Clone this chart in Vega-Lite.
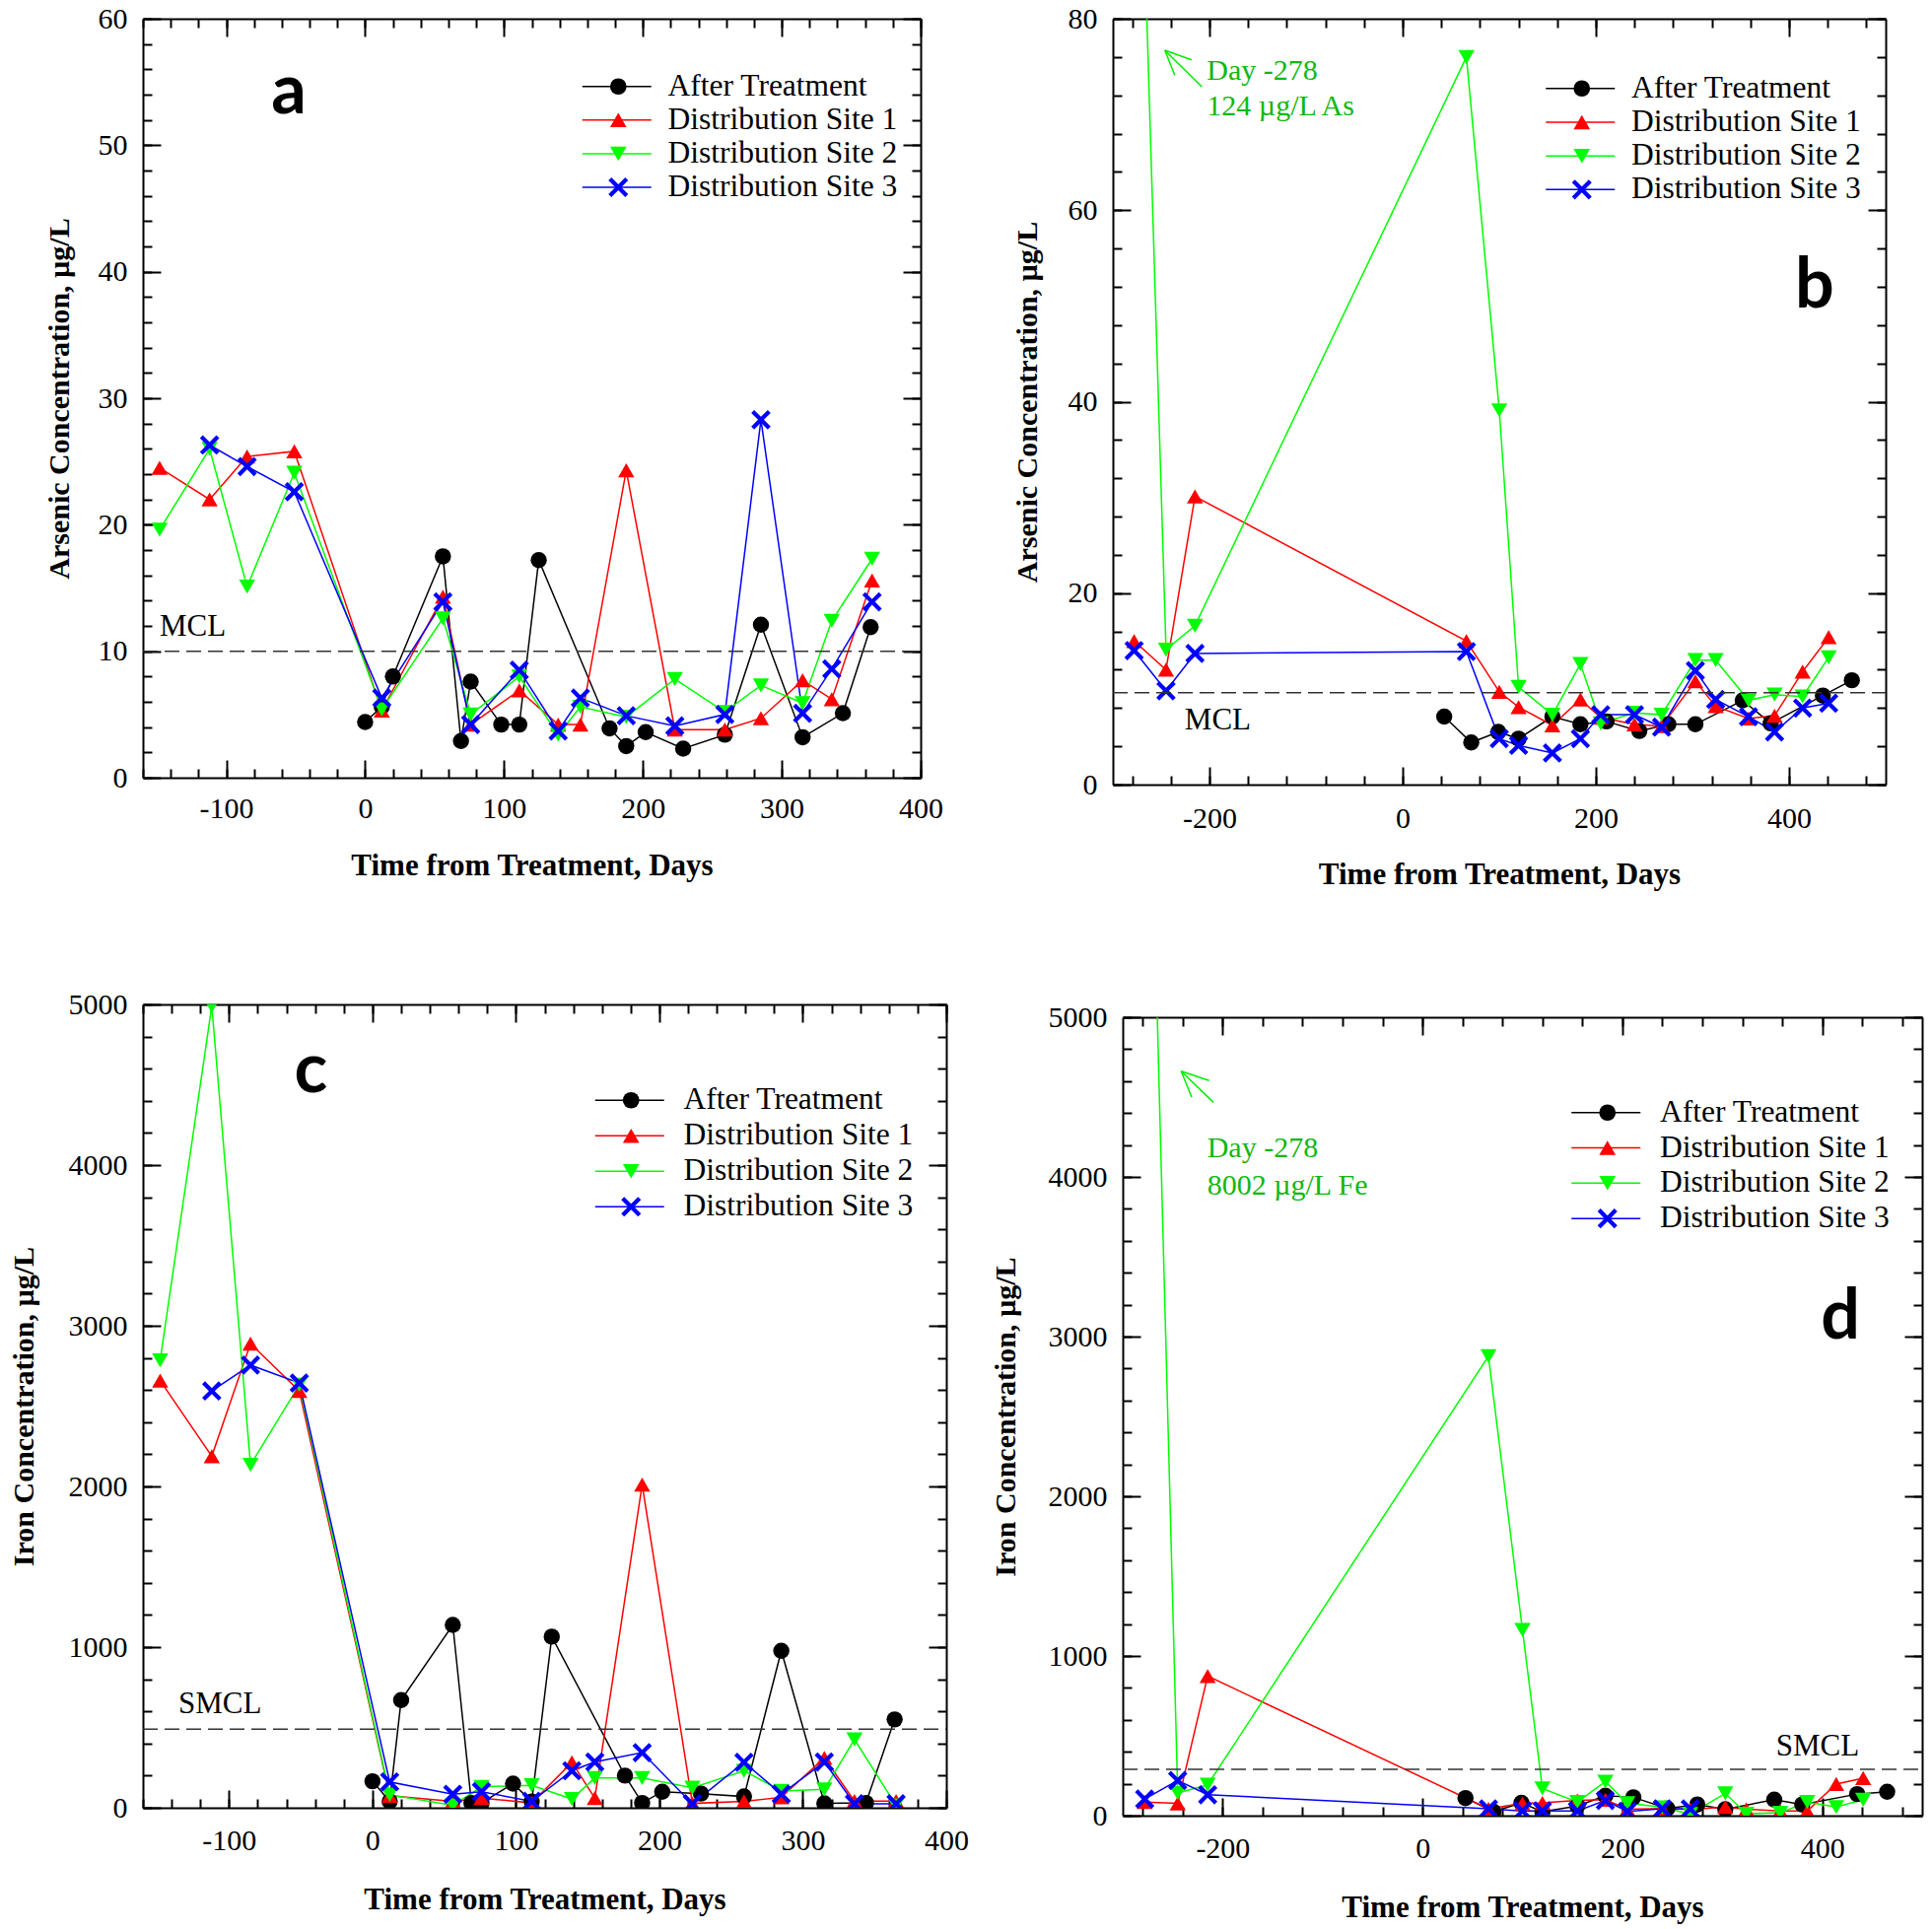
{
"$schema": "https://vega.github.io/schema/vega-lite/v6.json",
"autosize": {"type": "none"},
"padding": {"left": 145, "top": 19, "right": 1815, "bottom": 1938},
"background": "white",
"config": {
 "view": {"stroke": null},
 "axis": {"labelFont": "Liberation Serif", "labelFontSize": 30, "labelColor": "black", "titleFont": "Liberation Serif", "titleFontSize": 30, "titleFontWeight": "bold", "titleColor": "black", "domainColor": "black", "domainWidth": 2, "tickColor": "black", "tickWidth": 2, "grid": false, "labelFlush": false, "labelOverlap": false, "labelBound": false},
 "legend": {"labelFont": "Liberation Serif", "labelFontSize": 31.5, "labelColor": "black", "padding": 0, "labelOffset": 36, "labelLimit": 400}
},
"datasets": {
 "a": [
  {"day":0,"value":4.4,"series":"After Treatment"},{"day":12,"value":5.6,"series":"After Treatment"},{"day":20,"value":8.0,"series":"After Treatment"},{"day":56,"value":17.5,"series":"After Treatment"},{"day":69,"value":2.9,"series":"After Treatment"},{"day":76,"value":7.6,"series":"After Treatment"},{"day":98,"value":4.2,"series":"After Treatment"},{"day":111,"value":4.2,"series":"After Treatment"},{"day":125,"value":17.2,"series":"After Treatment"},{"day":176,"value":3.9,"series":"After Treatment"},{"day":188,"value":2.5,"series":"After Treatment"},{"day":202,"value":3.6,"series":"After Treatment"},{"day":229,"value":2.3,"series":"After Treatment"},{"day":259,"value":3.4,"series":"After Treatment"},{"day":285,"value":12.1,"series":"After Treatment"},{"day":315,"value":3.2,"series":"After Treatment"},{"day":344,"value":5.1,"series":"After Treatment"},{"day":364,"value":11.9,"series":"After Treatment"},
  {"day":-148,"value":24.5,"series":"Distribution Site 1"},{"day":-112,"value":22.0,"series":"Distribution Site 1"},{"day":-85,"value":25.4,"series":"Distribution Site 1"},{"day":-51,"value":25.8,"series":"Distribution Site 1"},{"day":12,"value":5.3,"series":"Distribution Site 1"},{"day":56,"value":14.3,"series":"Distribution Site 1"},{"day":76,"value":4.2,"series":"Distribution Site 1"},{"day":111,"value":6.9,"series":"Distribution Site 1"},{"day":139,"value":4.2,"series":"Distribution Site 1"},{"day":155,"value":4.2,"series":"Distribution Site 1"},{"day":188,"value":24.3,"series":"Distribution Site 1"},{"day":223,"value":3.8,"series":"Distribution Site 1"},{"day":259,"value":3.8,"series":"Distribution Site 1"},{"day":285,"value":4.7,"series":"Distribution Site 1"},{"day":315,"value":7.7,"series":"Distribution Site 1"},{"day":336,"value":6.2,"series":"Distribution Site 1"},{"day":365,"value":15.6,"series":"Distribution Site 1"},
  {"day":-148,"value":19.6,"series":"Distribution Site 2"},{"day":-112,"value":26.0,"series":"Distribution Site 2"},{"day":-85,"value":15.1,"series":"Distribution Site 2"},{"day":-51,"value":24.1,"series":"Distribution Site 2"},{"day":12,"value":5.4,"series":"Distribution Site 2"},{"day":56,"value":12.6,"series":"Distribution Site 2"},{"day":76,"value":5.0,"series":"Distribution Site 2"},{"day":111,"value":8.0,"series":"Distribution Site 2"},{"day":139,"value":3.4,"series":"Distribution Site 2"},{"day":155,"value":5.6,"series":"Distribution Site 2"},{"day":188,"value":4.8,"series":"Distribution Site 2"},{"day":223,"value":7.8,"series":"Distribution Site 2"},{"day":259,"value":5.2,"series":"Distribution Site 2"},{"day":285,"value":7.3,"series":"Distribution Site 2"},{"day":315,"value":5.9,"series":"Distribution Site 2"},{"day":336,"value":12.4,"series":"Distribution Site 2"},{"day":365,"value":17.3,"series":"Distribution Site 2"},
  {"day":-112,"value":26.3,"series":"Distribution Site 3"},{"day":-85,"value":24.6,"series":"Distribution Site 3"},{"day":-51,"value":22.6,"series":"Distribution Site 3"},{"day":12,"value":6.3,"series":"Distribution Site 3"},{"day":56,"value":13.9,"series":"Distribution Site 3"},{"day":76,"value":4.2,"series":"Distribution Site 3"},{"day":111,"value":8.5,"series":"Distribution Site 3"},{"day":139,"value":3.7,"series":"Distribution Site 3"},{"day":155,"value":6.3,"series":"Distribution Site 3"},{"day":188,"value":4.9,"series":"Distribution Site 3"},{"day":223,"value":4.1,"series":"Distribution Site 3"},{"day":259,"value":5.0,"series":"Distribution Site 3"},{"day":285,"value":28.3,"series":"Distribution Site 3"},{"day":315,"value":5.1,"series":"Distribution Site 3"},{"day":336,"value":8.6,"series":"Distribution Site 3"},{"day":365,"value":13.9,"series":"Distribution Site 3"}
 ],
 "b": [
  {"day":43,"value":7.1,"series":"After Treatment"},{"day":71,"value":4.4,"series":"After Treatment"},{"day":99,"value":5.5,"series":"After Treatment"},{"day":120,"value":4.8,"series":"After Treatment"},{"day":155,"value":7.1,"series":"After Treatment"},{"day":184,"value":6.3,"series":"After Treatment"},{"day":211,"value":6.6,"series":"After Treatment"},{"day":245,"value":5.6,"series":"After Treatment"},{"day":275,"value":6.3,"series":"After Treatment"},{"day":303,"value":6.3,"series":"After Treatment"},{"day":352,"value":8.8,"series":"After Treatment"},{"day":381,"value":6.4,"series":"After Treatment"},{"day":435,"value":9.3,"series":"After Treatment"},{"day":465,"value":10.9,"series":"After Treatment"},
  {"day":-278,"value":15.0,"series":"Distribution Site 1"},{"day":-245,"value":12.0,"series":"Distribution Site 1"},{"day":-215,"value":30.1,"series":"Distribution Site 1"},{"day":66,"value":15.0,"series":"Distribution Site 1"},{"day":100,"value":9.7,"series":"Distribution Site 1"},{"day":120,"value":8.1,"series":"Distribution Site 1"},{"day":155,"value":6.2,"series":"Distribution Site 1"},{"day":184,"value":8.9,"series":"Distribution Site 1"},{"day":205,"value":7.0,"series":"Distribution Site 1"},{"day":240,"value":6.3,"series":"Distribution Site 1"},{"day":268,"value":6.1,"series":"Distribution Site 1"},{"day":303,"value":10.8,"series":"Distribution Site 1"},{"day":324,"value":8.2,"series":"Distribution Site 1"},{"day":358,"value":6.9,"series":"Distribution Site 1"},{"day":385,"value":7.2,"series":"Distribution Site 1"},{"day":414,"value":11.8,"series":"Distribution Site 1"},{"day":441,"value":15.4,"series":"Distribution Site 1"},
  {"day":-278,"value":124,"series":"Distribution Site 2"},{"day":-245,"value":14.1,"series":"Distribution Site 2"},{"day":-215,"value":16.6,"series":"Distribution Site 2"},{"day":66,"value":76.0,"series":"Distribution Site 2"},{"day":100,"value":39.1,"series":"Distribution Site 2"},{"day":120,"value":10.2,"series":"Distribution Site 2"},{"day":155,"value":7.3,"series":"Distribution Site 2"},{"day":184,"value":12.6,"series":"Distribution Site 2"},{"day":205,"value":6.4,"series":"Distribution Site 2"},{"day":240,"value":7.5,"series":"Distribution Site 2"},{"day":268,"value":7.3,"series":"Distribution Site 2"},{"day":303,"value":13.0,"series":"Distribution Site 2"},{"day":324,"value":13.0,"series":"Distribution Site 2"},{"day":358,"value":8.8,"series":"Distribution Site 2"},{"day":385,"value":9.4,"series":"Distribution Site 2"},{"day":414,"value":9.2,"series":"Distribution Site 2"},{"day":441,"value":13.3,"series":"Distribution Site 2"},
  {"day":-278,"value":14.0,"series":"Distribution Site 3"},{"day":-245,"value":9.8,"series":"Distribution Site 3"},{"day":-215,"value":13.7,"series":"Distribution Site 3"},{"day":66,"value":13.9,"series":"Distribution Site 3"},{"day":100,"value":4.8,"series":"Distribution Site 3"},{"day":120,"value":4.1,"series":"Distribution Site 3"},{"day":155,"value":3.3,"series":"Distribution Site 3"},{"day":184,"value":4.8,"series":"Distribution Site 3"},{"day":205,"value":7.3,"series":"Distribution Site 3"},{"day":240,"value":7.3,"series":"Distribution Site 3"},{"day":268,"value":6.0,"series":"Distribution Site 3"},{"day":303,"value":11.9,"series":"Distribution Site 3"},{"day":324,"value":8.9,"series":"Distribution Site 3"},{"day":358,"value":7.1,"series":"Distribution Site 3"},{"day":385,"value":5.5,"series":"Distribution Site 3"},{"day":414,"value":8.0,"series":"Distribution Site 3"},{"day":441,"value":8.5,"series":"Distribution Site 3"}
 ],
 "c": [
  {"day":0,"value":165,"series":"After Treatment"},{"day":12,"value":40,"series":"After Treatment"},{"day":20,"value":670,"series":"After Treatment"},{"day":56,"value":1138,"series":"After Treatment"},{"day":69,"value":30,"series":"After Treatment"},{"day":76,"value":30,"series":"After Treatment"},{"day":98,"value":150,"series":"After Treatment"},{"day":111,"value":38,"series":"After Treatment"},{"day":125,"value":1065,"series":"After Treatment"},{"day":176,"value":200,"series":"After Treatment"},{"day":188,"value":30,"series":"After Treatment"},{"day":202,"value":100,"series":"After Treatment"},{"day":229,"value":88,"series":"After Treatment"},{"day":259,"value":70,"series":"After Treatment"},{"day":285,"value":977,"series":"After Treatment"},{"day":315,"value":28,"series":"After Treatment"},{"day":344,"value":30,"series":"After Treatment"},{"day":364,"value":550,"series":"After Treatment"},
  {"day":-148,"value":2659,"series":"Distribution Site 1"},{"day":-112,"value":2188,"series":"Distribution Site 1"},{"day":-85,"value":2889,"series":"Distribution Site 1"},{"day":-51,"value":2594,"series":"Distribution Site 1"},{"day":12,"value":75,"series":"Distribution Site 1"},{"day":56,"value":40,"series":"Distribution Site 1"},{"day":76,"value":60,"series":"Distribution Site 1"},{"day":111,"value":30,"series":"Distribution Site 1"},{"day":139,"value":283,"series":"Distribution Site 1"},{"day":155,"value":60,"series":"Distribution Site 1"},{"day":188,"value":2011,"series":"Distribution Site 1"},{"day":223,"value":27,"series":"Distribution Site 1"},{"day":259,"value":40,"series":"Distribution Site 1"},{"day":285,"value":65,"series":"Distribution Site 1"},{"day":315,"value":310,"series":"Distribution Site 1"},{"day":336,"value":42,"series":"Distribution Site 1"},{"day":365,"value":42,"series":"Distribution Site 1"},
  {"day":-148,"value":2785,"series":"Distribution Site 2"},{"day":-112,"value":4990,"series":"Distribution Site 2"},{"day":-85,"value":2134,"series":"Distribution Site 2"},{"day":-51,"value":2632,"series":"Distribution Site 2"},{"day":12,"value":80,"series":"Distribution Site 2"},{"day":56,"value":15,"series":"Distribution Site 2"},{"day":76,"value":130,"series":"Distribution Site 2"},{"day":111,"value":140,"series":"Distribution Site 2"},{"day":139,"value":55,"series":"Distribution Site 2"},{"day":155,"value":185,"series":"Distribution Site 2"},{"day":188,"value":185,"series":"Distribution Site 2"},{"day":223,"value":125,"series":"Distribution Site 2"},{"day":259,"value":230,"series":"Distribution Site 2"},{"day":285,"value":105,"series":"Distribution Site 2"},{"day":315,"value":115,"series":"Distribution Site 2"},{"day":336,"value":425,"series":"Distribution Site 2"},{"day":365,"value":15,"series":"Distribution Site 2"},
  {"day":-112,"value":2594,"series":"Distribution Site 3"},{"day":-85,"value":2755,"series":"Distribution Site 3"},{"day":-51,"value":2644,"series":"Distribution Site 3"},{"day":12,"value":161,"series":"Distribution Site 3"},{"day":56,"value":84,"series":"Distribution Site 3"},{"day":76,"value":100,"series":"Distribution Site 3"},{"day":111,"value":40,"series":"Distribution Site 3"},{"day":139,"value":230,"series":"Distribution Site 3"},{"day":155,"value":285,"series":"Distribution Site 3"},{"day":188,"value":343,"series":"Distribution Site 3"},{"day":223,"value":25,"series":"Distribution Site 3"},{"day":259,"value":283,"series":"Distribution Site 3"},{"day":285,"value":85,"series":"Distribution Site 3"},{"day":315,"value":285,"series":"Distribution Site 3"},{"day":336,"value":25,"series":"Distribution Site 3"},{"day":365,"value":25,"series":"Distribution Site 3"}
 ],
 "d": [
  {"day":43,"value":110,"series":"After Treatment"},{"day":71,"value":25,"series":"After Treatment"},{"day":99,"value":80,"series":"After Treatment"},{"day":120,"value":25,"series":"After Treatment"},{"day":155,"value":60,"series":"After Treatment"},{"day":183,"value":125,"series":"After Treatment"},{"day":211,"value":115,"series":"After Treatment"},{"day":245,"value":45,"series":"After Treatment"},{"day":275,"value":70,"series":"After Treatment"},{"day":303,"value":40,"series":"After Treatment"},{"day":352,"value":100,"series":"After Treatment"},{"day":380,"value":70,"series":"After Treatment"},{"day":435,"value":135,"series":"After Treatment"},{"day":465,"value":150,"series":"After Treatment"},
  {"day":-278,"value":85,"series":"Distribution Site 1"},{"day":-245,"value":77,"series":"Distribution Site 1"},{"day":-215,"value":874,"series":"Distribution Site 1"},{"day":66,"value":43,"series":"Distribution Site 1"},{"day":100,"value":77,"series":"Distribution Site 1"},{"day":120,"value":80,"series":"Distribution Site 1"},{"day":155,"value":95,"series":"Distribution Site 1"},{"day":183,"value":100,"series":"Distribution Site 1"},{"day":205,"value":40,"series":"Distribution Site 1"},{"day":240,"value":45,"series":"Distribution Site 1"},{"day":268,"value":38,"series":"Distribution Site 1"},{"day":303,"value":54,"series":"Distribution Site 1"},{"day":324,"value":40,"series":"Distribution Site 1"},{"day":358,"value":30,"series":"Distribution Site 1"},{"day":385,"value":29,"series":"Distribution Site 1"},{"day":414,"value":198,"series":"Distribution Site 1"},{"day":441,"value":235,"series":"Distribution Site 1"},
  {"day":-278,"value":8002,"series":"Distribution Site 2"},{"day":-245,"value":142,"series":"Distribution Site 2"},{"day":-215,"value":193,"series":"Distribution Site 2"},{"day":66,"value":2877,"series":"Distribution Site 2"},{"day":100,"value":1163,"series":"Distribution Site 2"},{"day":120,"value":170,"series":"Distribution Site 2"},{"day":155,"value":85,"series":"Distribution Site 2"},{"day":183,"value":213,"series":"Distribution Site 2"},{"day":205,"value":78,"series":"Distribution Site 2"},{"day":240,"value":52,"series":"Distribution Site 2"},{"day":268,"value":10,"series":"Distribution Site 2"},{"day":303,"value":140,"series":"Distribution Site 2"},{"day":324,"value":12,"series":"Distribution Site 2"},{"day":358,"value":18,"series":"Distribution Site 2"},{"day":385,"value":85,"series":"Distribution Site 2"},{"day":414,"value":54,"series":"Distribution Site 2"},{"day":441,"value":100,"series":"Distribution Site 2"},
  {"day":-278,"value":104,"series":"Distribution Site 3"},{"day":-245,"value":220,"series":"Distribution Site 3"},{"day":-215,"value":131,"series":"Distribution Site 3"},{"day":66,"value":43,"series":"Distribution Site 3"},{"day":100,"value":30,"series":"Distribution Site 3"},{"day":120,"value":30,"series":"Distribution Site 3"},{"day":155,"value":30,"series":"Distribution Site 3"},{"day":183,"value":95,"series":"Distribution Site 3"},{"day":205,"value":27,"series":"Distribution Site 3"},{"day":240,"value":43,"series":"Distribution Site 3"},{"day":268,"value":43,"series":"Distribution Site 3"}
 ]
},
"spacing": 1000,
"bounds": "flush",
"resolve": {"scale": {"color": "independent", "fill": "independent", "shape": "independent"}, "legend": {"color": "independent", "fill": "independent", "shape": "independent"}},
"vconcat": [
 {"hconcat": [
  {"width": 789, "height": 770,
   "resolve": {"axis": {"x": "independent", "y": "independent"}},
   "layer": [
    {"data": {"name": "a"}, "mark": {"type": "line", "strokeWidth": 1.5, "clip": true},
     "encoding": {
      "x": {"field": "day", "type": "quantitative", "scale": {"domain": [-160, 400], "nice": false, "zero": false}, "axis": {"orient": "bottom", "values": [-100,0,100,200,300,400], "ticks": false, "domain": true, "labelPadding": 16, "labelExpr": "'' + datum.value", "title": "Time from Treatment, Days", "titleFontSize": 31, "titlePadding": 28}},
      "y": {"field": "value", "type": "quantitative", "scale": {"domain": [0, 60], "nice": false, "zero": false}, "axis": {"orient": "left", "values": [0,10,20,30,40,50,60], "ticks": false, "domain": true, "labelPadding": 16, "labelExpr": "'' + datum.value", "title": "Arsenic Concentration, µg/L", "titlePadding": 24}},
      "color": {"field": "series", "type": "nominal", "scale": {"domain": ["After Treatment","Distribution Site 1","Distribution Site 2","Distribution Site 3"], "range": ["black","#ff0000","#00ff00","#0000ff"]},
       "legend": {"orient": "none", "legendX": 465, "legendY": 53, "title": null, "rowPadding": 1.1, "symbolType": "M-3.5,0H3.5", "symbolSize": 400, "symbolStrokeWidth": 1.5}}
     }},
    {"data": {"name": "a"}, "mark": {"type": "point", "filled": true, "size": 270, "opacity": 1, "clip": true},
     "encoding": {
      "x": {"field": "day", "type": "quantitative", "scale": {"domain": [-160, 400], "nice": false, "zero": false}, "axis": {"orient": "bottom", "values": [-100,0,100,200,300,400], "labels": false, "tickSize": -18, "domain": false, "title": null}},
      "y": {"field": "value", "type": "quantitative", "scale": {"domain": [0, 60], "nice": false, "zero": false}, "axis": {"orient": "left", "values": [0,10,20,30,40,50,60], "labels": false, "tickSize": -18, "domain": false, "title": null}},
      "fill": {"field": "series", "type": "nominal", "scale": {"domain": ["Distribution Site 3","Distribution Site 2","Distribution Site 1","After Treatment"], "range": ["#0000ff","#00ff00","#ff0000","black"]},
       "legend": {"orient": "none", "legendX": 466.5, "legendY": 53, "title": null, "rowPadding": 1.1, "values": ["After Treatment","Distribution Site 1","Distribution Site 2","Distribution Site 3"], "symbolSize": 280, "symbolStrokeWidth": 0, "labelOpacity": 0}},
      "shape": {"field": "series", "type": "nominal", "scale": {"domain": ["Distribution Site 3","Distribution Site 2","Distribution Site 1","After Treatment"], "range": ["M-1.2,-0.84L-0.84,-1.2L0,-0.36L0.84,-1.2L1.2,-0.84L0.36,0L1.2,0.84L0.84,1.2L0,0.36L-0.84,1.2L-1.2,0.84L-0.36,0Z","triangle-down","triangle-up","circle"]},
       "legend": {"orient": "none", "legendX": 466.5, "legendY": 53, "title": null, "rowPadding": 1.1, "values": ["After Treatment","Distribution Site 1","Distribution Site 2","Distribution Site 3"], "symbolSize": 280, "symbolStrokeWidth": 0, "labelOpacity": 0}}
     }},
    {"data": {"values": [{}]}, "mark": {"type": "rule", "strokeDash": [15, 7], "strokeWidth": 1.5, "color": "#333333"},
     "encoding": {
      "x": {"datum": -160, "type": "quantitative", "scale": {"domain": [-160, 400], "nice": false, "zero": false}, "axis": {"orient": "bottom", "values": [-160,-140,-120,-100,-80,-60,-40,-20,0,20,40,60,80,100,120,140,160,180,200,220,240,260,280,300,320,340,360,380,400], "labels": false, "tickSize": -9, "domain": false, "title": null}},
      "x2": {"datum": 400},
      "y": {"datum": 10, "type": "quantitative", "scale": {"domain": [0, 60], "nice": false, "zero": false}, "axis": {"orient": "left", "values": [0,2,4,6,8,10,12,14,16,18,20,22,24,26,28,30,32,34,36,38,40,42,44,46,48,50,52,54,56,58,60], "labels": false, "tickSize": -9, "domain": false, "title": null}}
     }},
    {"data": {"values": [{}]}, "mark": {"type": "text", "text": "MCL", "align": "left", "baseline": "alphabetic", "font": "Liberation Serif", "fontSize": 31, "color": "black"},
     "encoding": {
      "x": {"datum": -148, "type": "quantitative", "scale": {"domain": [-160, 400], "nice": false, "zero": false}, "axis": {"orient": "top", "values": [-100,0,100,200,300,400], "labels": false, "tickSize": -18, "domain": true, "title": null}},
      "y": {"datum": 11.2, "type": "quantitative", "scale": {"domain": [0, 60], "nice": false, "zero": false}, "axis": {"orient": "right", "values": [0,10,20,30,40,50,60], "labels": false, "tickSize": -18, "domain": true, "title": null}}
     }},
    {"data": {"values": [{}]}, "mark": {"type": "text", "text": "a", "align": "center", "baseline": "alphabetic", "font": "Lato", "fontWeight": "bold", "fontSize": 70, "color": "black"},
     "encoding": {
      "x": {"datum": -55, "type": "quantitative", "scale": {"domain": [-160, 400], "nice": false, "zero": false}, "axis": {"orient": "top", "values": [-160,-140,-120,-100,-80,-60,-40,-20,0,20,40,60,80,100,120,140,160,180,200,220,240,260,280,300,320,340,360,380,400], "labels": false, "tickSize": -9, "domain": false, "title": null}},
      "y": {"datum": 52.5, "type": "quantitative", "scale": {"domain": [0, 60], "nice": false, "zero": false}, "axis": {"orient": "right", "values": [0,2,4,6,8,10,12,14,16,18,20,22,24,26,28,30,32,34,36,38,40,42,44,46,48,50,52,54,56,58,60], "labels": false, "tickSize": -9, "domain": false, "title": null}}
     }}
   ]},
  {"width": 784, "height": 777,
   "resolve": {"axis": {"x": "independent", "y": "independent"}},
   "layer": [
    {"data": {"name": "b"}, "mark": {"type": "line", "strokeWidth": 1.5, "clip": true},
     "encoding": {
      "x": {"field": "day", "type": "quantitative", "scale": {"domain": [-300, 500], "nice": false, "zero": false}, "axis": {"orient": "bottom", "values": [-200,0,200,400], "ticks": false, "domain": true, "labelPadding": 19, "labelExpr": "'' + datum.value", "title": "Time from Treatment, Days", "titleFontSize": 31, "titlePadding": 27}},
      "y": {"field": "value", "type": "quantitative", "scale": {"domain": [0, 80], "nice": false, "zero": false}, "axis": {"orient": "left", "values": [0,20,40,60,80], "ticks": false, "domain": true, "labelPadding": 16, "labelExpr": "'' + datum.value", "title": "Arsenic Concentration, µg/L", "titlePadding": 25.5}},
      "color": {"field": "series", "type": "nominal", "scale": {"domain": ["After Treatment","Distribution Site 1","Distribution Site 2","Distribution Site 3"], "range": ["black","#ff0000","#00ff00","#0000ff"]},
       "legend": {"orient": "none", "legendX": 458.5, "legendY": 55, "title": null, "rowPadding": 1.2, "symbolType": "M-3.5,0H3.5", "symbolSize": 400, "symbolStrokeWidth": 1.5}}
     }},
    {"data": {"name": "b"}, "mark": {"type": "point", "filled": true, "size": 270, "opacity": 1, "clip": true},
     "encoding": {
      "x": {"field": "day", "type": "quantitative", "scale": {"domain": [-300, 500], "nice": false, "zero": false}, "axis": {"orient": "bottom", "values": [-200,0,200,400], "labels": false, "tickSize": -18, "domain": false, "title": null}},
      "y": {"field": "value", "type": "quantitative", "scale": {"domain": [0, 80], "nice": false, "zero": false}, "axis": {"orient": "left", "values": [0,20,40,60,80], "labels": false, "tickSize": -18, "domain": false, "title": null}},
      "fill": {"field": "series", "type": "nominal", "scale": {"domain": ["Distribution Site 3","Distribution Site 2","Distribution Site 1","After Treatment"], "range": ["#0000ff","#00ff00","#ff0000","black"]},
       "legend": {"orient": "none", "legendX": 460, "legendY": 55, "title": null, "rowPadding": 1.2, "values": ["After Treatment","Distribution Site 1","Distribution Site 2","Distribution Site 3"], "symbolSize": 280, "symbolStrokeWidth": 0, "labelOpacity": 0}},
      "shape": {"field": "series", "type": "nominal", "scale": {"domain": ["Distribution Site 3","Distribution Site 2","Distribution Site 1","After Treatment"], "range": ["M-1.2,-0.84L-0.84,-1.2L0,-0.36L0.84,-1.2L1.2,-0.84L0.36,0L1.2,0.84L0.84,1.2L0,0.36L-0.84,1.2L-1.2,0.84L-0.36,0Z","triangle-down","triangle-up","circle"]},
       "legend": {"orient": "none", "legendX": 460, "legendY": 55, "title": null, "rowPadding": 1.2, "values": ["After Treatment","Distribution Site 1","Distribution Site 2","Distribution Site 3"], "symbolSize": 280, "symbolStrokeWidth": 0, "labelOpacity": 0}}
     }},
    {"data": {"values": [{}]}, "mark": {"type": "rule", "strokeDash": [15, 7], "strokeWidth": 1.5, "color": "#333333"},
     "encoding": {
      "x": {"datum": -300, "type": "quantitative", "scale": {"domain": [-300, 500], "nice": false, "zero": false}, "axis": {"orient": "bottom", "values": [-280,-240,-200,-160,-120,-80,-40,0,40,80,120,160,200,240,280,320,360,400,440,480], "labels": false, "tickSize": -9, "domain": false, "title": null}},
      "x2": {"datum": 500},
      "y": {"datum": 9.6, "type": "quantitative", "scale": {"domain": [0, 80], "nice": false, "zero": false}, "axis": {"orient": "left", "values": [0,4,8,12,16,20,24,28,32,36,40,44,48,52,56,60,64,68,72,76,80], "labels": false, "tickSize": -9, "domain": false, "title": null}}
     }},
    {"data": {"values": [{}]}, "mark": {"type": "text", "text": "MCL", "align": "left", "baseline": "alphabetic", "font": "Liberation Serif", "fontSize": 31, "color": "black"},
     "encoding": {
      "x": {"datum": -225.7, "type": "quantitative", "scale": {"domain": [-300, 500], "nice": false, "zero": false}, "axis": {"orient": "top", "values": [-200,0,200,400], "labels": false, "tickSize": -18, "domain": true, "title": null}},
      "y": {"datum": 5.8, "type": "quantitative", "scale": {"domain": [0, 80], "nice": false, "zero": false}, "axis": {"orient": "right", "values": [0,20,40,60,80], "labels": false, "tickSize": -18, "domain": true, "title": null}}
     }},
    {"data": {"values": [{}]}, "mark": {"type": "text", "text": "b", "align": "center", "baseline": "alphabetic", "font": "Lato", "fontWeight": "bold", "fontSize": 70, "color": "black"},
     "encoding": {
      "x": {"datum": 426.5, "type": "quantitative", "scale": {"domain": [-300, 500], "nice": false, "zero": false}, "axis": {"orient": "top", "values": [-280,-240,-200,-160,-120,-80,-40,0,40,80,120,160,200,240,280,320,360,400,440,480], "labels": false, "tickSize": -9, "domain": false, "title": null}},
      "y": {"datum": 49.8, "type": "quantitative", "scale": {"domain": [0, 80], "nice": false, "zero": false}, "axis": {"orient": "right", "values": [0,4,8,12,16,20,24,28,32,36,40,44,48,52,56,60,64,68,72,76,80], "labels": false, "tickSize": -9, "domain": false, "title": null}}
     }},
    {"data": {"values": [{"x1": -207.9, "y1": 72.9, "x2": -246.2, "y2": 76.7}, {"x1": -246.2, "y1": 76.7, "x2": -218.4, "y2": 75.7}, {"x1": -246.2, "y1": 76.7, "x2": -236, "y2": 74.1}]},
     "mark": {"type": "rule", "strokeWidth": 1.5, "color": "#00ee00"},
     "encoding": {
      "x": {"field": "x1", "type": "quantitative", "scale": {"domain": [-300, 500], "nice": false, "zero": false}, "axis": null},
      "x2": {"field": "x2"},
      "y": {"field": "y1", "type": "quantitative", "scale": {"domain": [0, 80], "nice": false, "zero": false}, "axis": null},
      "y2": {"field": "y2"}
     }},
    {"data": {"values": [{"t": "Day -278", "x": -202.7, "y": 73.6}, {"t": "124 µg/L As", "x": -202.7, "y": 69.9}]},
     "mark": {"type": "text", "align": "left", "baseline": "alphabetic", "font": "Liberation Serif", "fontSize": 30, "color": "#10b810"},
     "encoding": {
      "x": {"field": "x", "type": "quantitative", "scale": {"domain": [-300, 500], "nice": false, "zero": false}, "axis": null},
      "y": {"field": "y", "type": "quantitative", "scale": {"domain": [0, 80], "nice": false, "zero": false}, "axis": null},
      "text": {"field": "t"}
     }}
   ]}
 ], "spacing": 195, "bounds": "flush",
 "resolve": {"scale": {"color": "independent", "fill": "independent", "shape": "independent"}, "legend": {"color": "independent", "fill": "independent", "shape": "independent"}}},
 {"hconcat": [
  {"width": 815, "height": 815,
   "resolve": {"axis": {"x": "independent", "y": "independent"}},
   "layer": [
    {"data": {"name": "c"}, "mark": {"type": "line", "strokeWidth": 1.5, "clip": true},
     "encoding": {
      "x": {"field": "day", "type": "quantitative", "scale": {"domain": [-160, 400], "nice": false, "zero": false}, "axis": {"orient": "bottom", "values": [-100,0,100,200,300,400], "ticks": false, "domain": true, "labelPadding": 18, "labelExpr": "'' + datum.value", "title": "Time from Treatment, Days", "titleFontSize": 31, "titlePadding": 30}},
      "y": {"field": "value", "type": "quantitative", "scale": {"domain": [0, 5000], "nice": false, "zero": false}, "axis": {"orient": "left", "values": [0,1000,2000,3000,4000,5000], "ticks": false, "domain": true, "labelPadding": 16, "labelExpr": "'' + datum.value", "title": "Iron Concentration, µg/L", "titlePadding": 29.5}},
      "color": {"field": "series", "type": "nominal", "scale": {"domain": ["After Treatment","Distribution Site 1","Distribution Site 2","Distribution Site 3"], "range": ["black","#ff0000","#00ff00","#0000ff"]},
       "legend": {"orient": "none", "legendX": 478, "legendY": 81.5, "title": null, "rowPadding": 3, "labelOffset": 39, "symbolType": "M-3.5,0H3.5", "symbolSize": 400, "symbolStrokeWidth": 1.5}}
     }},
    {"data": {"name": "c"}, "mark": {"type": "point", "filled": true, "size": 270, "opacity": 1, "clip": true},
     "encoding": {
      "x": {"field": "day", "type": "quantitative", "scale": {"domain": [-160, 400], "nice": false, "zero": false}, "axis": {"orient": "bottom", "values": [-100,0,100,200,300,400], "labels": false, "tickSize": -18, "domain": false, "title": null}},
      "y": {"field": "value", "type": "quantitative", "scale": {"domain": [0, 5000], "nice": false, "zero": false}, "axis": {"orient": "left", "values": [0,1000,2000,3000,4000,5000], "labels": false, "tickSize": -18, "domain": false, "title": null}},
      "fill": {"field": "series", "type": "nominal", "scale": {"domain": ["Distribution Site 3","Distribution Site 2","Distribution Site 1","After Treatment"], "range": ["#0000ff","#00ff00","#ff0000","black"]},
       "legend": {"orient": "none", "legendX": 479.5, "legendY": 81.5, "title": null, "rowPadding": 3, "labelOffset": 39, "values": ["After Treatment","Distribution Site 1","Distribution Site 2","Distribution Site 3"], "symbolSize": 280, "symbolStrokeWidth": 0, "labelOpacity": 0}},
      "shape": {"field": "series", "type": "nominal", "scale": {"domain": ["Distribution Site 3","Distribution Site 2","Distribution Site 1","After Treatment"], "range": ["M-1.2,-0.84L-0.84,-1.2L0,-0.36L0.84,-1.2L1.2,-0.84L0.36,0L1.2,0.84L0.84,1.2L0,0.36L-0.84,1.2L-1.2,0.84L-0.36,0Z","triangle-down","triangle-up","circle"]},
       "legend": {"orient": "none", "legendX": 479.5, "legendY": 81.5, "title": null, "rowPadding": 3, "labelOffset": 39, "values": ["After Treatment","Distribution Site 1","Distribution Site 2","Distribution Site 3"], "symbolSize": 280, "symbolStrokeWidth": 0, "labelOpacity": 0}}
     }},
    {"data": {"values": [{}]}, "mark": {"type": "rule", "strokeDash": [15, 7], "strokeWidth": 1.5, "color": "#333333"},
     "encoding": {
      "x": {"datum": -160, "type": "quantitative", "scale": {"domain": [-160, 400], "nice": false, "zero": false}, "axis": {"orient": "bottom", "values": [-160,-140,-120,-100,-80,-60,-40,-20,0,20,40,60,80,100,120,140,160,180,200,220,240,260,280,300,320,340,360,380,400], "labels": false, "tickSize": -9, "domain": false, "title": null}},
      "x2": {"datum": 400},
      "y": {"datum": 490, "type": "quantitative", "scale": {"domain": [0, 5000], "nice": false, "zero": false}, "axis": {"orient": "left", "values": [0,200,400,600,800,1000,1200,1400,1600,1800,2000,2200,2400,2600,2800,3000,3200,3400,3600,3800,4000,4200,4400,4600,4800,5000], "labels": false, "tickSize": -9, "domain": false, "title": null}}
     }},
    {"data": {"values": [{}]}, "mark": {"type": "text", "text": "SMCL", "align": "left", "baseline": "alphabetic", "font": "Liberation Serif", "fontSize": 31, "color": "black"},
     "encoding": {
      "x": {"datum": -135.3, "type": "quantitative", "scale": {"domain": [-160, 400], "nice": false, "zero": false}, "axis": {"orient": "top", "values": [-100,0,100,200,300,400], "labels": false, "tickSize": -18, "domain": true, "title": null}},
      "y": {"datum": 589, "type": "quantitative", "scale": {"domain": [0, 5000], "nice": false, "zero": false}, "axis": {"orient": "right", "values": [0,1000,2000,3000,4000,5000], "labels": false, "tickSize": -18, "domain": true, "title": null}}
     }},
    {"data": {"values": [{}]}, "mark": {"type": "text", "text": "c", "align": "center", "baseline": "alphabetic", "font": "Lato", "fontWeight": "bold", "fontSize": 70, "color": "black"},
     "encoding": {
      "x": {"datum": -43, "type": "quantitative", "scale": {"domain": [-160, 400], "nice": false, "zero": false}, "axis": {"orient": "top", "values": [-160,-140,-120,-100,-80,-60,-40,-20,0,20,40,60,80,100,120,140,160,180,200,220,240,260,280,300,320,340,360,380,400], "labels": false, "tickSize": -9, "domain": false, "title": null}},
      "y": {"datum": 4454, "type": "quantitative", "scale": {"domain": [0, 5000], "nice": false, "zero": false}, "axis": {"orient": "right", "values": [0,200,400,600,800,1000,1200,1400,1600,1800,2000,2200,2400,2600,2800,3000,3200,3400,3600,3800,4000,4200,4400,4600,4800,5000], "labels": false, "tickSize": -9, "domain": false, "title": null}}
     }}
   ]},
  {"vconcat": [
   {"width": 811, "height": 13, "data": {"values": [{}]}, "mark": {"type": "point", "opacity": 0}, "encoding": {}},
   {"width": 811, "height": 810,
    "resolve": {"axis": {"x": "independent", "y": "independent"}},
    "layer": [
     {"data": {"name": "d"}, "mark": {"type": "line", "strokeWidth": 1.5, "clip": true},
      "encoding": {
       "x": {"field": "day", "type": "quantitative", "scale": {"domain": [-300, 500], "nice": false, "zero": false}, "axis": {"orient": "bottom", "values": [-200,0,200,400], "ticks": false, "domain": true, "labelPadding": 18, "labelExpr": "'' + datum.value", "title": "Time from Treatment, Days", "titleFontSize": 31, "titlePadding": 30}},
       "y": {"field": "value", "type": "quantitative", "scale": {"domain": [0, 5000], "nice": false, "zero": false}, "axis": {"orient": "left", "values": [0,1000,2000,3000,4000,5000], "ticks": false, "domain": true, "labelPadding": 16, "labelExpr": "'' + datum.value", "title": "Iron Concentration, µg/L", "titlePadding": 27.5}},
       "color": {"field": "series", "type": "nominal", "scale": {"domain": ["After Treatment","Distribution Site 1","Distribution Site 2","Distribution Site 3"], "range": ["black","#ff0000","#00ff00","#0000ff"]},
        "legend": {"orient": "none", "legendX": 474.5, "legendY": 81, "title": null, "rowPadding": 2.8, "labelOffset": 39, "symbolType": "M-3.5,0H3.5", "symbolSize": 400, "symbolStrokeWidth": 1.5}}
      }},
     {"data": {"name": "d"}, "mark": {"type": "point", "filled": true, "size": 270, "opacity": 1, "clip": true},
      "encoding": {
       "x": {"field": "day", "type": "quantitative", "scale": {"domain": [-300, 500], "nice": false, "zero": false}, "axis": {"orient": "bottom", "values": [-200,0,200,400], "labels": false, "tickSize": -18, "domain": false, "title": null}},
       "y": {"field": "value", "type": "quantitative", "scale": {"domain": [0, 5000], "nice": false, "zero": false}, "axis": {"orient": "left", "values": [0,1000,2000,3000,4000,5000], "labels": false, "tickSize": -18, "domain": false, "title": null}},
       "fill": {"field": "series", "type": "nominal", "scale": {"domain": ["Distribution Site 3","Distribution Site 2","Distribution Site 1","After Treatment"], "range": ["#0000ff","#00ff00","#ff0000","black"]},
        "legend": {"orient": "none", "legendX": 476, "legendY": 81, "title": null, "rowPadding": 2.8, "labelOffset": 39, "values": ["After Treatment","Distribution Site 1","Distribution Site 2","Distribution Site 3"], "symbolSize": 280, "symbolStrokeWidth": 0, "labelOpacity": 0}},
       "shape": {"field": "series", "type": "nominal", "scale": {"domain": ["Distribution Site 3","Distribution Site 2","Distribution Site 1","After Treatment"], "range": ["M-1.2,-0.84L-0.84,-1.2L0,-0.36L0.84,-1.2L1.2,-0.84L0.36,0L1.2,0.84L0.84,1.2L0,0.36L-0.84,1.2L-1.2,0.84L-0.36,0Z","triangle-down","triangle-up","circle"]},
        "legend": {"orient": "none", "legendX": 476, "legendY": 81, "title": null, "rowPadding": 2.8, "labelOffset": 39, "values": ["After Treatment","Distribution Site 1","Distribution Site 2","Distribution Site 3"], "symbolSize": 280, "symbolStrokeWidth": 0, "labelOpacity": 0}}
      }},
     {"data": {"values": [{}]}, "mark": {"type": "rule", "strokeDash": [15, 7], "strokeWidth": 1.5, "color": "#333333"},
      "encoding": {
       "x": {"datum": -300, "type": "quantitative", "scale": {"domain": [-300, 500], "nice": false, "zero": false}, "axis": {"orient": "bottom", "values": [-280,-240,-200,-160,-120,-80,-40,0,40,80,120,160,200,240,280,320,360,400,440,480], "labels": false, "tickSize": -9, "domain": false, "title": null}},
       "x2": {"datum": 500},
       "y": {"datum": 290, "type": "quantitative", "scale": {"domain": [0, 5000], "nice": false, "zero": false}, "axis": {"orient": "left", "values": [0,200,400,600,800,1000,1200,1400,1600,1800,2000,2200,2400,2600,2800,3000,3200,3400,3600,3800,4000,4200,4400,4600,4800,5000], "labels": false, "tickSize": -9, "domain": false, "title": null}}
      }},
     {"data": {"values": [{}]}, "mark": {"type": "text", "text": "SMCL", "align": "left", "baseline": "alphabetic", "font": "Liberation Serif", "fontSize": 31, "color": "black"},
      "encoding": {
       "x": {"datum": 353.8, "type": "quantitative", "scale": {"domain": [-300, 500], "nice": false, "zero": false}, "axis": {"orient": "top", "values": [-200,0,200,400], "labels": false, "tickSize": -18, "domain": true, "title": null}},
       "y": {"datum": 376, "type": "quantitative", "scale": {"domain": [0, 5000], "nice": false, "zero": false}, "axis": {"orient": "right", "values": [0,1000,2000,3000,4000,5000], "labels": false, "tickSize": -18, "domain": true, "title": null}}
      }},
     {"data": {"values": [{}]}, "mark": {"type": "text", "text": "d", "align": "center", "baseline": "alphabetic", "font": "Lato", "fontWeight": "bold", "fontSize": 70, "color": "black"},
      "encoding": {
       "x": {"datum": 418.2, "type": "quantitative", "scale": {"domain": [-300, 500], "nice": false, "zero": false}, "axis": {"orient": "top", "values": [-280,-240,-200,-160,-120,-80,-40,0,40,80,120,160,200,240,280,320,360,400,440,480], "labels": false, "tickSize": -9, "domain": false, "title": null}},
       "y": {"datum": 2988, "type": "quantitative", "scale": {"domain": [0, 5000], "nice": false, "zero": false}, "axis": {"orient": "right", "values": [0,200,400,600,800,1000,1200,1400,1600,1800,2000,2200,2400,2600,2800,3000,3200,3400,3600,3800,4000,4200,4400,4600,4800,5000], "labels": false, "tickSize": -9, "domain": false, "title": null}}
      }},
     {"data": {"values": [{"x1": -209.2, "y1": 4467, "x2": -241.5, "y2": 4662}, {"x1": -241.5, "y1": 4662, "x2": -213.5, "y2": 4603}, {"x1": -241.5, "y1": 4662, "x2": -230.9, "y2": 4498}]},
      "mark": {"type": "rule", "strokeWidth": 1.5, "color": "#00ee00"},
      "encoding": {
       "x": {"field": "x1", "type": "quantitative", "scale": {"domain": [-300, 500], "nice": false, "zero": false}, "axis": null},
       "x2": {"field": "x2"},
       "y": {"field": "y1", "type": "quantitative", "scale": {"domain": [0, 5000], "nice": false, "zero": false}, "axis": null},
       "y2": {"field": "y2"}
      }},
     {"data": {"values": [{"t": "Day -278", "x": -215.5, "y": 4125}, {"t": "8002 µg/L Fe", "x": -215.5, "y": 3886}]},
      "mark": {"type": "text", "align": "left", "baseline": "alphabetic", "font": "Liberation Serif", "fontSize": 30, "color": "#10b810"},
      "encoding": {
       "x": {"field": "x", "type": "quantitative", "scale": {"domain": [-300, 500], "nice": false, "zero": false}, "axis": null},
       "y": {"field": "y", "type": "quantitative", "scale": {"domain": [0, 5000], "nice": false, "zero": false}, "axis": null},
       "text": {"field": "t"}
      }}
    ]}
  ], "spacing": 0, "bounds": "flush",
  "resolve": {"scale": {"color": "independent", "fill": "independent", "shape": "independent"}, "legend": {"color": "independent", "fill": "independent", "shape": "independent"}}}
 ], "spacing": 179, "bounds": "flush",
 "resolve": {"scale": {"color": "independent", "fill": "independent", "shape": "independent"}, "legend": {"color": "independent", "fill": "independent", "shape": "independent"}}}
]
}
